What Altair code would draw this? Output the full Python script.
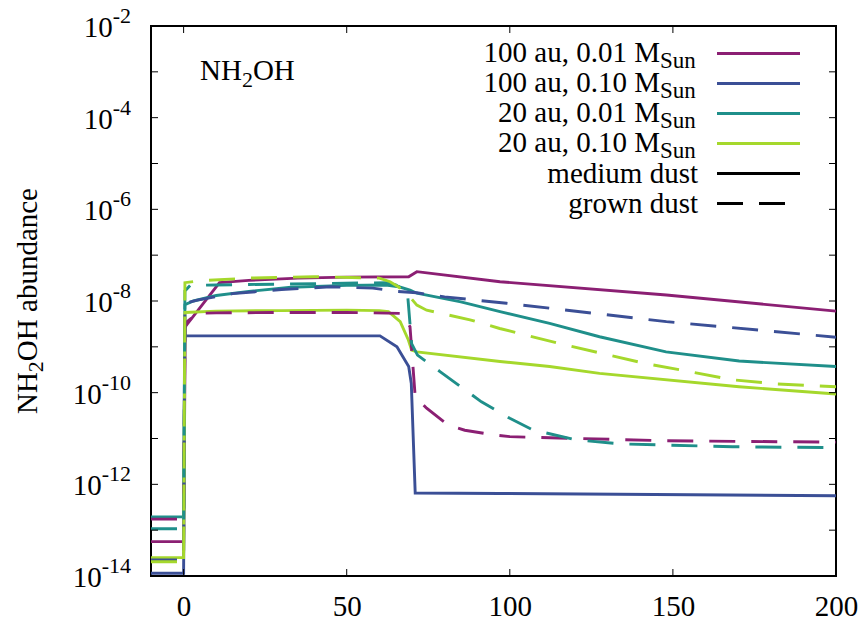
import altair as alt
import pandas as pd

# ---------------------------------------------------------------------------
# NH2OH abundance (log10) versus time for four disk models and two dust cases
# ---------------------------------------------------------------------------
SERIES = ["100 au, 0.01", "100 au, 0.10", "20 au, 0.01", "20 au, 0.10"]
COLORS = ["#8b1f73", "#3b4f96", "#1f8f8a", "#a5d82c"]

# 100 au, 0.01 Msun
p_med_x = [-10, 0, 0.5, 11, 20, 35, 50, 69, 71.5, 97, 148, 200]
p_med_lg = [-13.25, -13.25, -8.56, -7.6, -7.55, -7.5, -7.48, -7.47, -7.36, -7.58, -7.87, -8.22]
p_gro_x = [-10, 0, 0.4, 1.1, 4.2, 10, 30, 50, 66.9, 69.4, 71, 74.5, 81.1, 86.2, 94.9, 100, 148, 200]
p_gro_lg = [-12.76, -12.76, -8.6, -8.45, -8.27, -8.26, -8.25, -8.25, -8.27, -8.56, -10.09, -10.34,
            -10.71, -10.82, -10.92, -10.96, -11.05, -11.08]

# 100 au, 0.10 Msun
b_med_x = [-10, 0, 0.3, 30, 60.2, 65.4, 69, 69.8, 71, 97, 200]
b_med_lg = [-13.94, -13.94, -8.76, -8.76, -8.76, -9.0, -9.43, -9.8, -12.19, -12.2, -12.25]
b_gro_x = [-10, 0, 0.4, 4.2, 15, 30, 45, 58, 65.4, 71.5, 80, 99, 148, 200]
b_gro_lg = [-13.65, -13.65, -8.05, -7.98, -7.84, -7.75, -7.69, -7.72, -7.79, -7.82, -7.91, -8.05,
            -8.45, -8.79]

# 20 au, 0.01 Msun
t_med_x = [-10, 0, 0.4, 3, 10, 20, 33, 50, 62, 66, 69.4, 71.5, 85, 97, 112.2, 127.5, 147.9, 170.3, 200]
t_med_lg = [-12.71, -12.71, -8.08, -8.0, -7.88, -7.79, -7.7, -7.66, -7.65, -7.69, -7.76, -7.83,
            -8.02, -8.23, -8.49, -8.78, -9.11, -9.31, -9.43]
t_gro_x = [-10, 0, 0.4, 2, 10, 20, 42, 62, 65, 68.6, 69.9, 71.7, 78.6, 91.3, 100, 107, 120.3,
           134.6, 168.3, 200]
t_gro_lg = [-12.97, -12.97, -7.78, -7.66, -7.65, -7.64, -7.62, -7.6, -7.65, -7.8, -8.93, -9.18,
            -9.54, -10.2, -10.56, -10.81, -11.03, -11.12, -11.18, -11.2]

# 20 au, 0.10 Msun
g_med_x = [-10, 0, 0.4, 10, 30, 50, 60, 62.8, 66.4, 68.9, 69.9, 71.5, 97, 112.2, 127.5, 170.3, 200]
g_med_lg = [-13.6, -13.6, -8.25, -8.22, -8.21, -8.2, -8.21, -8.23, -8.45, -8.85, -9.07, -9.11,
            -9.32, -9.43, -9.58, -9.87, -10.03]
g_gro_x = [-10, 0, 0.4, 5, 20, 40, 60, 63.3, 66, 68.4, 71.5, 74.5, 87.8, 96.9, 114.8, 128, 141.3,
           155, 168.3, 182, 200]
g_gro_lg = [-13.69, -13.69, -7.6, -7.56, -7.5, -7.47, -7.5, -7.58, -7.7, -7.83, -8.09, -8.2, -8.41,
            -8.6, -8.92, -9.14, -9.36, -9.54, -9.72, -9.81, -9.87]

X_TICKS = [0, 50, 100, 150, 200]
Y_LABEL_EXP = [-2, -4, -6, -8, -10, -12, -14]
Y_TICK_EXP = list(range(-14, -1))

curves = [
    (SERIES[0], "medium", p_med_x, p_med_lg),
    (SERIES[1], "medium", b_med_x, b_med_lg),
    (SERIES[2], "medium", t_med_x, t_med_lg),
    (SERIES[3], "medium", g_med_x, g_med_lg),
    (SERIES[0], "grown", p_gro_x, p_gro_lg),
    (SERIES[1], "grown", b_gro_x, b_gro_lg),
    (SERIES[2], "grown", t_gro_x, t_gro_lg),
    (SERIES[3], "grown", g_gro_x, g_gro_lg),
]
rows = []
for name, dust, xs, lgs in curves:
    for i, (x, lg) in enumerate(zip(xs, lgs)):
        rows.append({"series": name, "dust": dust, "t": x, "ab": 10.0 ** lg, "i": i})
df = pd.DataFrame(rows)

# ---------------------------------------------------------------------------
W, H = 685, 550
FONT = "Liberation Serif"
FS, FS_SUB = 29, 22
LW = 2.9
DASH = [26, 16]

# Times-style advance widths (em) for placing sub/superscripts
ADV = {c: 0.5 for c in "0123456789"}
ADV.update({" ": 0.25, ",": 0.25, ".": 0.25, "-": 0.333, "a": 0.444, "b": 0.5, "c": 0.444,
            "d": 0.5, "e": 0.444, "u": 0.5, "n": 0.5, "M": 0.889, "N": 0.722, "H": 0.722,
            "O": 0.722, "S": 0.556})


def text_w(s, size):
    return sum(ADV.get(c, 0.5) for c in s) * size


xscale = alt.Scale(domain=[-10, 200], nice=False, zero=False)
yscale = alt.Scale(type="log", domain=[1e-14, 1e-2], nice=False)
xaxis = alt.Axis(values=X_TICKS, ticks=False, domain=False, grid=False, labelFont=FONT,
                 labelFontSize=FS, labelColor="black", labelPadding=16, title=None,
                 labelFlush=False)


def xq(field):
    return alt.X(f"{field}:Q", scale=xscale, axis=xaxis)


def yq(field):
    return alt.Y(f"{field}:Q", scale=yscale, axis=None)


color = alt.Color("series:N", scale=alt.Scale(domain=SERIES, range=COLORS), legend=None)

solid = alt.Chart(df).transform_filter(alt.datum.dust == "medium").mark_line(
    strokeWidth=LW, clip=True).encode(x=xq("t"), y=yq("ab"), color=color, detail="series:N",
                                      order="i:Q")
dashed = alt.Chart(df).transform_filter(alt.datum.dust == "grown").mark_line(
    strokeWidth=LW, strokeDash=DASH, clip=True).encode(x=xq("t"), y=yq("ab"), color=color,
                                                      detail="series:N", order="i:Q")

# inward ticks on all four sides
xt = pd.DataFrame({"t": X_TICKS})
yt = pd.DataFrame({"ab": [10.0 ** e for e in Y_TICK_EXP]})
TL = 7
tick_b = alt.Chart(xt).mark_rule(color="black", strokeWidth=1).encode(
    x=xq("t"), y=alt.value(H), y2=alt.value(H - TL))
tick_t = alt.Chart(xt).mark_rule(color="black", strokeWidth=1).encode(
    x=xq("t"), y=alt.value(0), y2=alt.value(TL))
tick_l = alt.Chart(yt).mark_rule(color="black", strokeWidth=1).encode(
    y=yq("ab"), x=alt.value(0), x2=alt.value(TL))
tick_r = alt.Chart(yt).mark_rule(color="black", strokeWidth=1).encode(
    y=yq("ab"), x=alt.value(W), x2=alt.value(W - TL))

layers = [solid, dashed, tick_b, tick_t, tick_l, tick_r]

# y tick labels: "10" with a raised exponent
EXP_RIGHT = -20
ylab = pd.DataFrame({"ab": [10.0 ** e for e in Y_LABEL_EXP],
                     "exp": [f"-{abs(e)}" for e in Y_LABEL_EXP]})
ylab["w"] = ylab["exp"].apply(lambda s: text_w(s, FS_SUB))
layers.append(alt.Chart(ylab).mark_text(align="right", baseline="middle", font=FONT,
                                        fontSize=FS_SUB, dy=-10, color="black").encode(
    y=yq("ab"), x=alt.value(EXP_RIGHT), text="exp:N"))
for w in sorted(ylab["w"].unique()):
    sub = ylab[ylab["w"] == w]
    layers.append(alt.Chart(sub).mark_text(text="10", align="right", baseline="middle",
                                           font=FONT, fontSize=FS, dy=2, color="black").encode(
        y=yq("ab"), x=alt.value(EXP_RIGHT - w)))


def one():
    return pd.DataFrame({"k": [0]})


def txt(s, x, y, size=FS, align="left", angle=0):
    return alt.Chart(one()).mark_text(text=s, align=align, baseline="alphabetic", font=FONT,
                                      fontSize=size, angle=angle, color="black").encode(
        x=alt.value(x), y=alt.value(y))


# y axis title, rotated: NH2OH abundance
ty = 275 + (text_w("NH", FS) + text_w("2", FS_SUB) + text_w("OH abundance", FS)) / 2
tx = -114
layers.append(txt("NH", tx, ty, angle=270))
ty -= text_w("NH", FS)
layers.append(txt("2", tx + 6, ty, size=FS_SUB, angle=270))
ty -= text_w("2", FS_SUB)
layers.append(txt("OH abundance", tx, ty, angle=270))

# species label inside the frame
lx, ly = 49, 54
layers.append(txt("NH", lx, ly))
lx += text_w("NH", FS)
layers.append(txt("2", lx, ly + 7, size=FS_SUB))
lx += text_w("2", FS_SUB)
layers.append(txt("OH", lx, ly))

# key
KEY_TEXT_R = 509
KEY_X0, KEY_X1 = 566, 649
KEY_Y0, KEY_DY = 27.5, 30
for k, (name, c) in enumerate(zip(SERIES, COLORS)):
    yy = KEY_Y0 + k * KEY_DY
    layers.append(txt(name + " M", KEY_TEXT_R, yy + 8.5, align="right"))
    layers.append(txt("Sun", KEY_TEXT_R, yy + 14.5, size=FS_SUB + 1))
    layers.append(alt.Chart(one()).mark_rule(color=c, strokeWidth=LW).encode(
        x=alt.value(KEY_X0), x2=alt.value(KEY_X1), y=alt.value(yy)))
for k, (name, dash) in enumerate([("medium dust", None), ("grown dust", DASH)]):
    yy = KEY_Y0 + (4 + k) * KEY_DY
    layers.append(txt(name, KEY_TEXT_R + 38, yy + 9, align="right"))
    rule = alt.Chart(one()).mark_rule(color="black", strokeWidth=LW, strokeDash=dash) if dash \
        else alt.Chart(one()).mark_rule(color="black", strokeWidth=LW)
    layers.append(rule.encode(x=alt.value(KEY_X0), x2=alt.value(KEY_X1), y=alt.value(yy)))

chart = alt.layer(*layers).properties(
    width=W, height=H,
    autosize=alt.AutoSizeParams(type="none"),
    padding={"left": 151, "top": 26, "right": 30, "bottom": 44},
).configure_view(stroke="black", strokeWidth=2)

chart.save("out.html", embed_options={"renderer": "svg", "actions": False})
